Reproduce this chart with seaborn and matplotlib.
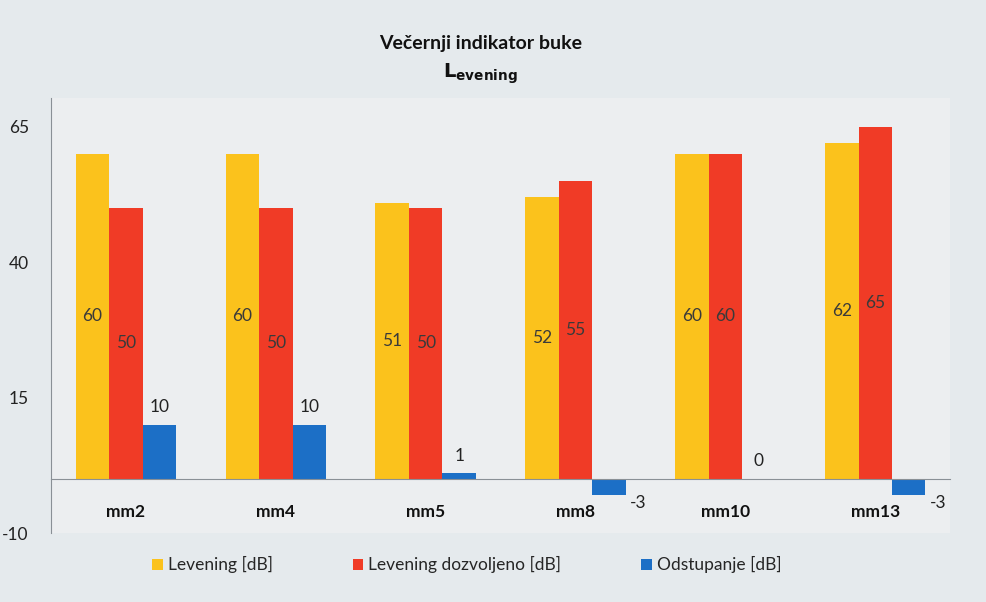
import matplotlib.pyplot as plt
import pandas as pd
import seaborn as sns
from matplotlib.patches import Patch

sites = ['mm2', 'mm4', 'mm5', 'mm8', 'mm10', 'mm13']
levening = [60, 60, 51, 52, 60, 62]
dozvoljeno = [50, 50, 50, 55, 60, 65]
odstupanje = [10, 10, 1, -3, 0, -3]

series = ['Levening [dB]', 'Levening dozvoljeno [dB]', 'Odstupanje [dB]']
colors = ['#fbc21c', '#f03b26', '#1c6fc6']
yticks = [65, 40, 15, -10]

df = pd.DataFrame({
    'site': sites * 3,
    'value': levening + dozvoljeno + odstupanje,
    'series': [s for s in series for _ in sites],
})

sns.set_style('white')
plt.rcParams['font.family'] = ['Lato', 'DejaVu Sans']

fig = plt.figure(figsize=(9.87, 6.02), dpi=100, facecolor='#e5eaed')
ax = fig.add_axes([0.0517, 0.1146, 0.911, 0.7226])
ax.set_facecolor('#eceef0')

sns.barplot(ax=ax, data=df, x='site', y='value', hue='series',
            palette=colors, width=0.67, saturation=1, legend=False,
            linewidth=0, edgecolor='none')

# move the category axis to zero first (this resets the ticks)
for side in ['top', 'right']:
    ax.spines[side].set_visible(False)
ax.spines['bottom'].set_position(('data', 0))
ax.spines['bottom'].set_color('#8a9096')
ax.spines['bottom'].set_linewidth(0.8)
ax.spines['left'].set_color('#8a9096')
ax.spines['left'].set_linewidth(0.8)

ax.set_ylim(-10, 70.3)
ax.set_xlim(-0.5, len(sites) - 0.5)
ax.set_yticks(yticks)
ax.set_yticklabels([str(t) for t in yticks], fontsize=12.5, color='#222222')
ax.set_xticks(range(len(sites)), sites, fontsize=12.5, fontweight='bold',
              color='#111111')
ax.tick_params(axis='y', length=0, pad=16)
ax.tick_params(axis='x', length=0, pad=18)
ax.set_xlabel('')
ax.set_ylabel('')

# value labels
for i, cont in enumerate(ax.containers):
    for bar in cont:
        h = bar.get_height()
        cx = bar.get_x() + bar.get_width() / 2
        if i < 2:
            ax.text(cx, h / 2, f'{h:.0f}', ha='center', va='center',
                    fontsize=12.5, color='#3a3a3a')
        elif h >= 0:
            ax.annotate(f'{h:.0f}', (cx, h), xytext=(0, 7),
                        textcoords='offset points', ha='center',
                        va='bottom', fontsize=12.5, color='#222222')
        else:
            ax.annotate(f'{h:.0f}', (cx, h), xytext=(21, -6),
                        textcoords='offset points', ha='center',
                        va='center', fontsize=12.5, color='#222222')

fig.text(0.487, 0.928, 'Večernji indikator buke', ha='center',
         va='center', fontsize=14, fontweight='bold', color='#111111')
fig.text(0.487, 0.878, r'$\mathbf{L}_{\mathbf{evening}}$', ha='center',
         va='center', fontsize=14, color='#111111')

handles = [Patch(facecolor=c, edgecolor='none') for c in colors]
fig.legend(handles, series, loc='center', bbox_to_anchor=(0.473, 0.062),
           ncol=3, frameon=False, fontsize=12.5, handlelength=0.6,
           handleheight=0.6, handletextpad=0.3, columnspacing=4.6)

fig.savefig('out.png', dpi=100, facecolor=fig.get_facecolor())
